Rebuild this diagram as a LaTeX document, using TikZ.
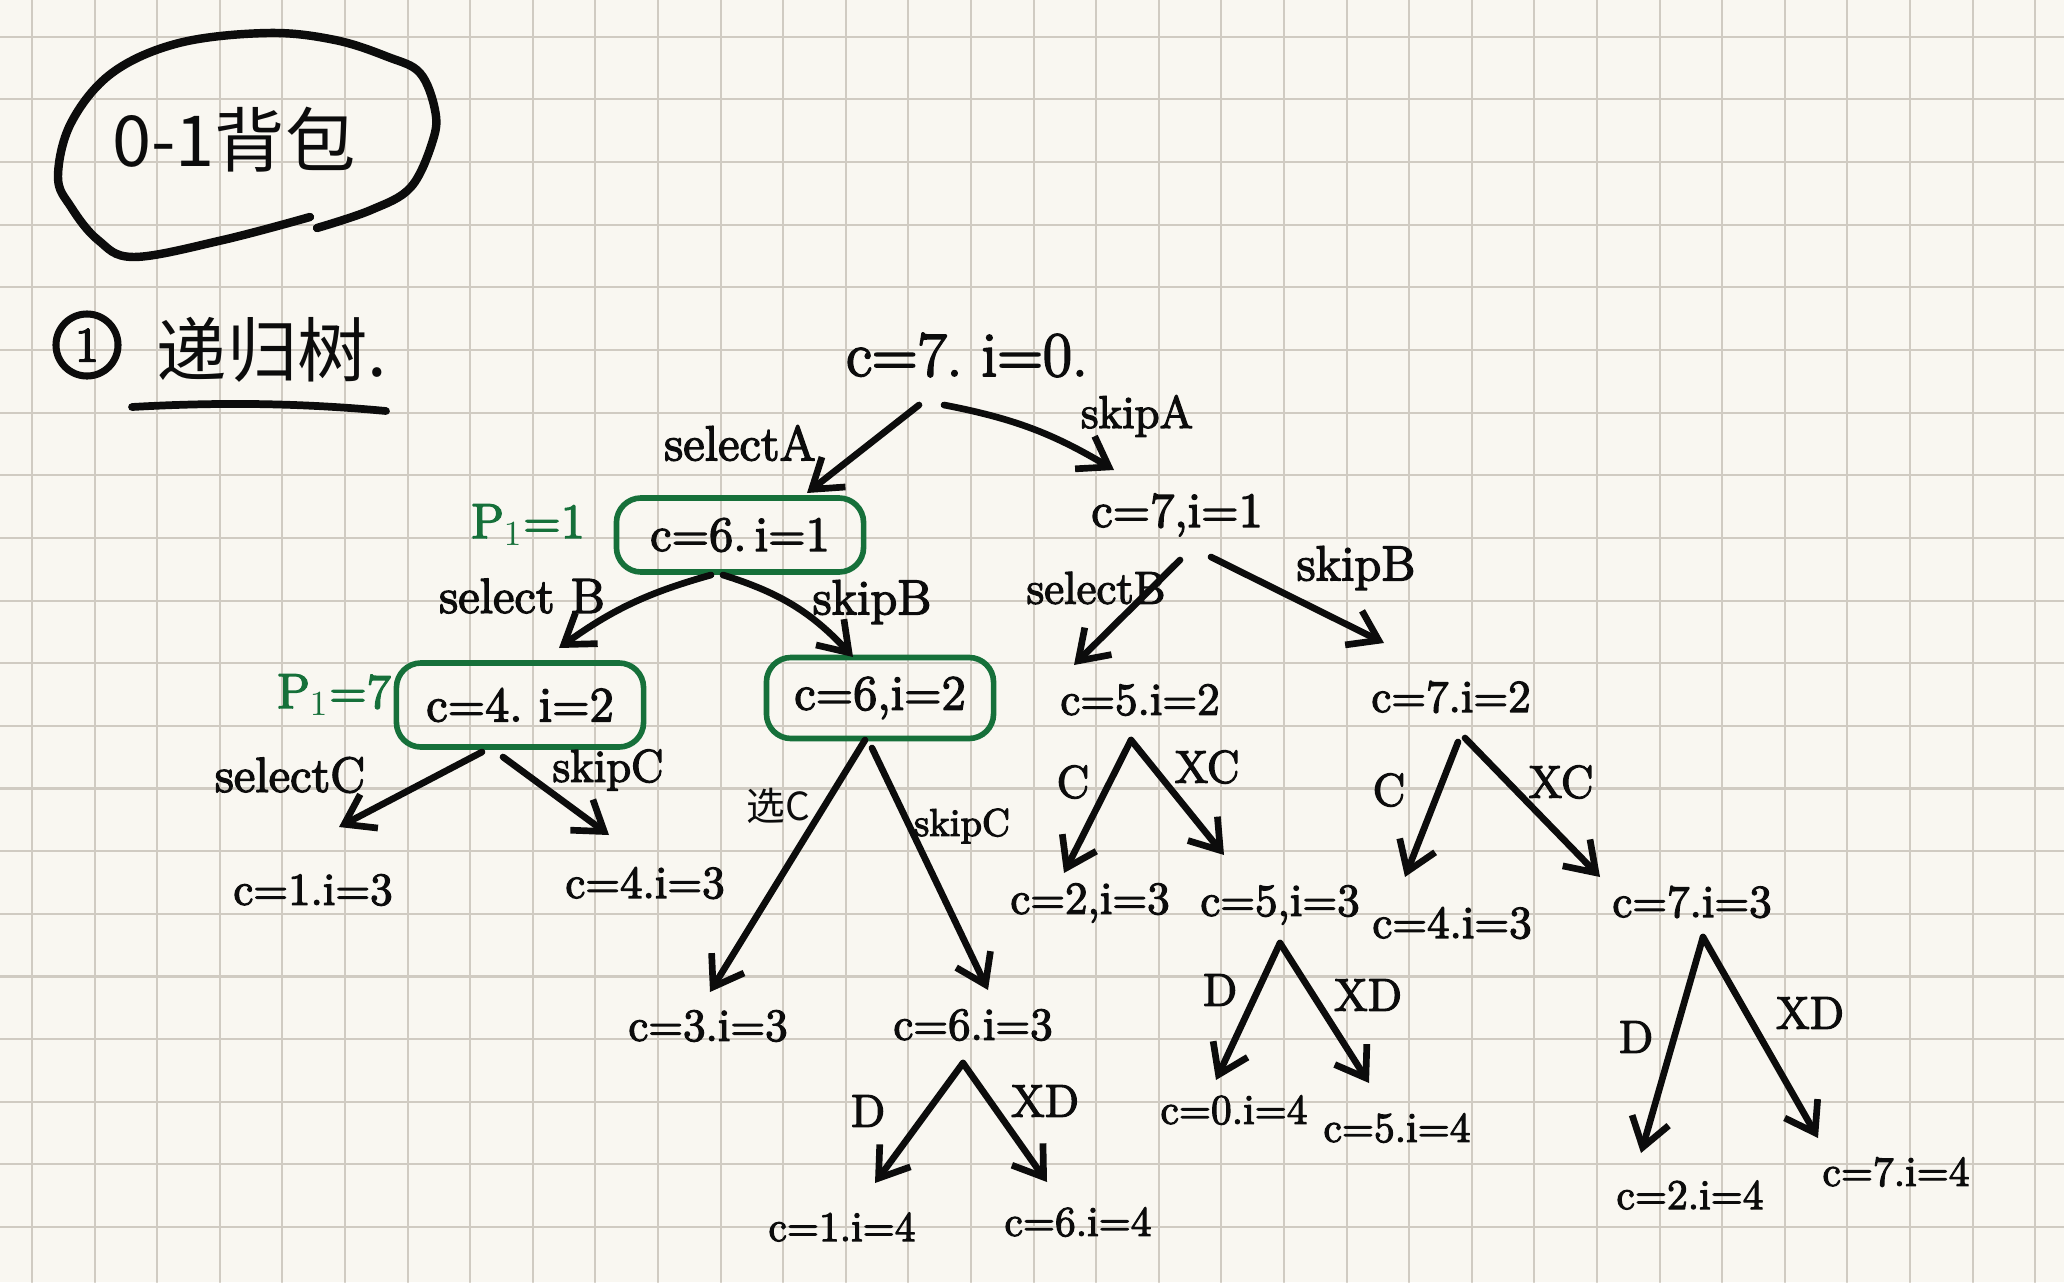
\documentclass[tikz,border=0pt]{standalone}
\usepackage{fontspec}
\newfontfamily\hand{Latin Modern Roman}[FakeBold=3]
\newfontfamily\cjk{Noto Sans CJK SC}
\usetikzlibrary{arrows.meta}
\definecolor{paper}{RGB}{249,247,241}
\definecolor{gridc}{RGB}{208,203,194}
\definecolor{ink}{RGB}{12,12,12}
\definecolor{pen}{RGB}{22,112,58}
\frenchspacing

\begin{document}
\begin{tikzpicture}[x=0.01cm,y=-0.01cm,line width=1.9pt,line cap=round,line join=round,
  st/.style={text=ink,inner sep=0pt,font=\hand\fontsize{13}{15}\selectfont},
  stone/.style={st,font=\hand\fontsize{14}{16}\selectfont},
  stlow/.style={st,font=\hand\fontsize{12}{14}\selectfont},
  lab/.style={text=ink,inner sep=0pt,font=\hand\fontsize{14}{16}\selectfont},
  tag/.style={lab,font=\hand\fontsize{13}{15}\selectfont},
  gbox/.style={draw=pen,line width=1.6pt,rounded corners=7pt},
  gtxt/.style={text=pen,inner sep=0pt,font=\hand\fontsize{14}{16}\selectfont},
  arr/.style={draw=ink,-{Straight Barb[length=2.8mm,width=3.8mm]}}]
% 纸面与方格
\useasboundingbox (0,0) rectangle (2064,1282);
\fill[paper] (0,0) rectangle (2064,1282);
\foreach \k in {0,...,32}
  \draw[gridc,line width=0.6pt] ({32+62.6*\k},0) -- ({32+62.6*\k},1282);
\foreach \k in {0,...,19}
  \draw[gridc,line width=0.6pt] (0,{36.7+62.65*\k}) -- (2064,{36.7+62.65*\k});
% 标题
\node[text=ink,font=\cjk\fontsize{20}{24}\selectfont] (title) at (234,140) {0-1背包};
\draw[ink,line width=2.4pt] plot[smooth,tension=0.6] coordinates {(317,228) (371,210) (411,187) (433,140) (435,110) (420,73) (388,57) (335,40) (268,33) (179,43) (112,73) (71,123) (58,177) (71,207) (98,240) (134,257) (223,240) (310,217)};
\node[draw=ink,circle,line width=2pt,minimum size=0.62cm,inner sep=0pt,text=ink,font=\hand\fontsize{14}{16}\selectfont] (num) at (87,345) {1};
\node[text=ink,font=\cjk\fontsize{20}{24}\selectfont] (sub) at (272,350) {递归树.};
\draw[ink,line width=2.2pt] (132,407) .. controls (220,402) and (300,403) .. (386,411);
% 第 0 层
\node[st,font=\hand\fontsize{18}{20}\selectfont] (root) at (967,355) {c=7. i=0.};
\node[lab] (sa) at (740,443) {selectA};
\node[tag] (ka) at (1137,416) {skipA};
% 第 1 层
\node[gtxt] (pa) at (528,525) {P$_1$=1};
\node[stone,gbox,minimum width=2.47cm,minimum height=0.74cm] (c61) at (740,535) {c=6.\,i=1};
\node[stone] (c71) at (1177,515) {c=7,i=1};
\node[lab] (sb1) at (522,596) {select B};
\node[lab] (kb1) at (872,602) {skipB};
\node[tag] (sb2) at (1096,588) {selectB};
\node[lab] (kb2) at (1356,568) {skipB};
% 第 2 层
\node[gtxt] (pb) at (334,695) {P$_1$=7};
\node[stone,gbox,minimum width=2.47cm,minimum height=0.84cm] (c42) at (520,705) {c=4. i=2};
\node[stone,gbox,minimum width=2.27cm,minimum height=0.81cm] (c62) at (880,698) {c=6,i=2};
\node[st] (c52) at (1140,700) {c=5.i=2};
\node[st] (c72) at (1451,697) {c=7.i=2};
\node[lab] (sc1) at (290,775) {selectC};
\node[tag] (kc1) at (608,770) {skipC};
\node[text=ink,inner sep=0pt,font=\cjk\fontsize{11}{13}\selectfont] (xc) at (778,806) {选C};
\node[st,font=\hand\fontsize{11}{13}\selectfont] (kc2) at (962,826) {skipC};
\node[tag] (lc1) at (1073,782) {C};
\node[tag] (lxc1) at (1207,767) {XC};
\node[tag] (lc2) at (1389,790) {C};
\node[tag] (lxc2) at (1561,782) {XC};
% 第 3 层
\node[st] (c13) at (313,890) {c=1.i=3};
\node[st] (c43a) at (645,883) {c=4.i=3};
\node[st] (c33) at (708,1026) {c=3.i=3};
\node[st] (c63) at (973,1025) {c=6.i=3};
\node[st] (c23) at (1090,903) {c=2,i=3};
\node[st] (c53) at (1280,905) {c=5,i=3};
\node[st] (c43b) at (1452,923) {c=4.i=3};
\node[st] (c73) at (1692,902) {c=7.i=3};
\node[tag] (ld1) at (868,1111) {D};
\node[tag] (lxd1) at (1045,1101) {XD};
\node[tag] (ld2) at (1220,990) {D};
\node[tag] (lxd2) at (1368,995) {XD};
\node[tag] (ld3) at (1636,1037) {D};
\node[tag] (lxd3) at (1810,1013) {XD};
% 第 4 层
\node[stlow] (c14) at (842,1227) {c=1.i=4};
\node[stlow] (c64) at (1078,1222) {c=6.i=4};
\node[stlow] (c04) at (1234,1110) {c=0.i=4};
\node[stlow] (c54) at (1397,1128) {c=5.i=4};
\node[stlow] (c24) at (1690,1195) {c=2.i=4};
\node[stlow] (c74) at (1896,1172) {c=7.i=4};
% 分支箭头
\draw[arr] ([shift={(-48,50)}]root.center) -- ([shift={(67,-42)}]c61.center);
\draw[arr] ([shift={(-23,50)}]root.center) to[bend left=10] ([shift={(-63,-45)}]c71.center);
\draw[arr] ([shift={(-29,40)}]c61.center) to[bend right=10] ([shift={(39,-57)}]c42.center);
\draw[arr] ([shift={(-17,40)}]c61.center) to[bend left=15] ([shift={(-27,-41)}]c62.center);
\draw[arr] ([shift={(3,45)}]c71.center) -- ([shift={(-66,-35)}]c52.center);
\draw[arr] ([shift={(34,42)}]c71.center) -- ([shift={(-67,-54)}]c72.center);
\draw[arr] ([shift={(-38,47)}]c42.center) -- ([shift={(26,-63)}]c13.center);
\draw[arr] ([shift={(-17,52)}]c42.center) -- ([shift={(-36,-48)}]c43a.center);
\draw[arr] ([shift={(-15,42)}]c62.center) -- ([shift={(2,-34)}]c33.center);
\draw[arr] ([shift={(-8,50)}]c62.center) -- ([shift={(15,-35)}]c63.center);
\draw[arr] ([shift={(-9,40)}]c52.center) -- ([shift={(-26,-30)}]c23.center);
\draw[arr] ([shift={(-9,40)}]c52.center) -- ([shift={(-56,-50)}]c53.center);
\draw[arr] ([shift={(7,45)}]c72.center) -- ([shift={(-47,-46)}]c43b.center);
\draw[arr] ([shift={(14,41)}]c72.center) -- ([shift={(-92,-25)}]c73.center);
\draw[arr] ([shift={(-10,38)}]c63.center) -- ([shift={(33,-44)}]c14.center);
\draw[arr] ([shift={(-10,38)}]c63.center) -- ([shift={(-31,-40)}]c64.center);
\draw[arr] ([shift={(0,38)}]c53.center) -- ([shift={(-18,-30)}]c04.center);
\draw[arr] ([shift={(0,38)}]c53.center) -- ([shift={(-28,-45)}]c54.center);
\draw[arr] ([shift={(11,35)}]c73.center) -- ([shift={(-49,-42)}]c24.center);
\draw[arr] ([shift={(11,35)}]c73.center) -- ([shift={(-78,-34)}]c74.center);
\end{tikzpicture}
\end{document}
